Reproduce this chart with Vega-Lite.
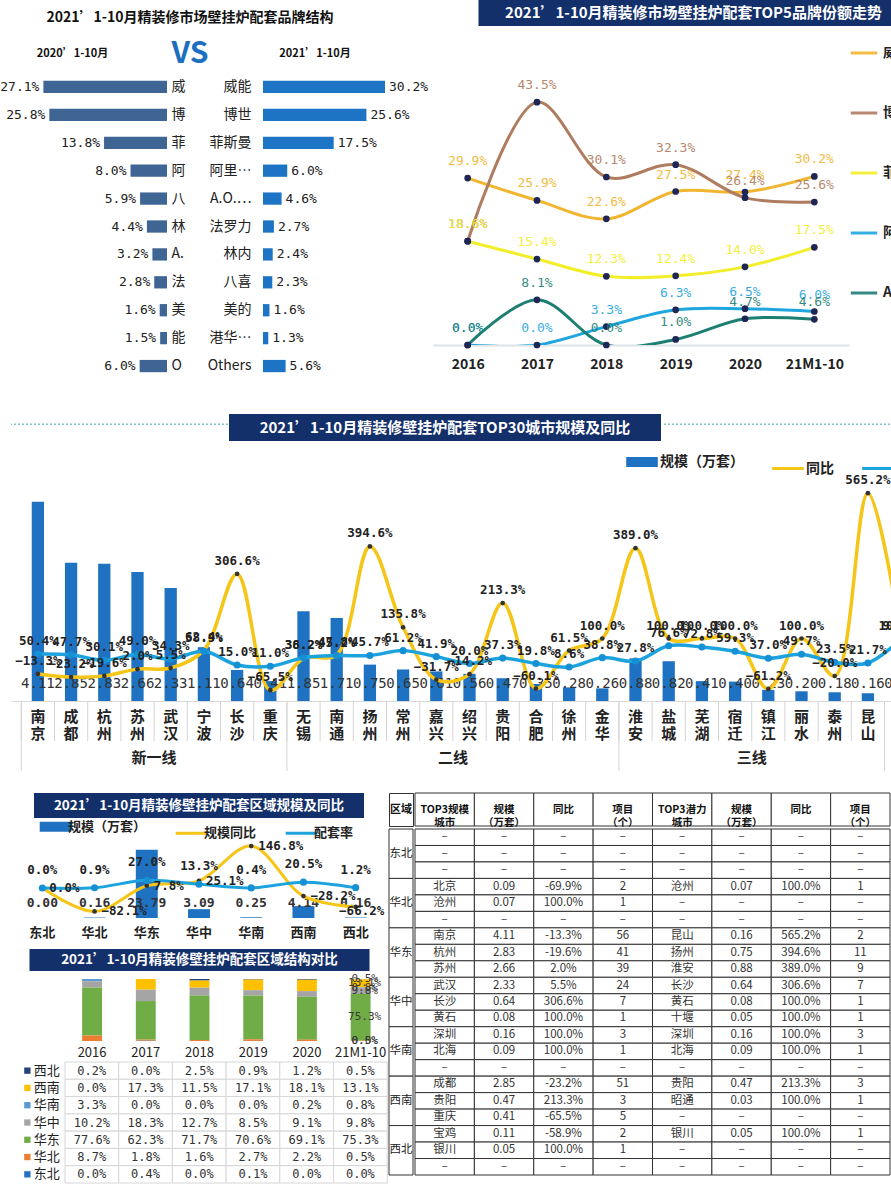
{
  "$schema": "https://vega.github.io/schema/vega-lite/v6.json",
  "padding": 0,
  "background": "white",
  "spacing": 34,
  "resolve": {"scale": {"color": "independent", "x": "independent", "y": "independent"}, "legend": {"color": "independent"}},
  "config": {
    "view": {"stroke": null},
    "font": "Noto Sans CJK SC",
    "axis": {"labelFont": "Noto Sans CJK SC", "titleFont": "Noto Sans CJK SC"},
    "legend": {"labelFont": "Noto Sans CJK SC", "titleFont": "Noto Sans CJK SC"},
    "title": {"font": "Noto Sans CJK SC"},
    "text": {"font": "Noto Sans CJK SC"}
  },
  "datasets": {
    "brand": [
      {"l": "威", "n": "威能", "a": 0.271, "b": 0.302},
      {"l": "博", "n": "博世", "a": 0.258, "b": 0.256},
      {"l": "菲", "n": "菲斯曼", "a": 0.138, "b": 0.175},
      {"l": "阿", "n": "阿里斯顿", "a": 0.080, "b": 0.060},
      {"l": "八", "n": "A.O.史密斯", "a": 0.059, "b": 0.046},
      {"l": "林", "n": "法罗力", "a": 0.044, "b": 0.027},
      {"l": "A.", "n": "林内", "a": 0.032, "b": 0.024},
      {"l": "法", "n": "八喜", "a": 0.028, "b": 0.023},
      {"l": "美", "n": "美的", "a": 0.016, "b": 0.016},
      {"l": "能", "n": "港华紫荆", "a": 0.015, "b": 0.013},
      {"l": "O", "n": "Others", "a": 0.060, "b": 0.056}
    ],
    "top5": [
      {"brand": "威能", "yr": "2016", "v": 0.299}, {"brand": "威能", "yr": "2017", "v": 0.259}, {"brand": "威能", "yr": "2018", "v": 0.226},
      {"brand": "威能", "yr": "2019", "v": 0.275}, {"brand": "威能", "yr": "2020", "v": 0.274}, {"brand": "威能", "yr": "21M1-10", "v": 0.302},
      {"brand": "博世", "yr": "2016", "v": 0.186}, {"brand": "博世", "yr": "2017", "v": 0.435}, {"brand": "博世", "yr": "2018", "v": 0.301},
      {"brand": "博世", "yr": "2019", "v": 0.323}, {"brand": "博世", "yr": "2020", "v": 0.264}, {"brand": "博世", "yr": "21M1-10", "v": 0.256},
      {"brand": "菲斯曼", "yr": "2016", "v": 0.186}, {"brand": "菲斯曼", "yr": "2017", "v": 0.154}, {"brand": "菲斯曼", "yr": "2018", "v": 0.123},
      {"brand": "菲斯曼", "yr": "2019", "v": 0.124}, {"brand": "菲斯曼", "yr": "2020", "v": 0.140}, {"brand": "菲斯曼", "yr": "21M1-10", "v": 0.175},
      {"brand": "阿里斯顿", "yr": "2016", "v": 0.0}, {"brand": "阿里斯顿", "yr": "2017", "v": 0.0}, {"brand": "阿里斯顿", "yr": "2018", "v": 0.033},
      {"brand": "阿里斯顿", "yr": "2019", "v": 0.063}, {"brand": "阿里斯顿", "yr": "2020", "v": 0.065}, {"brand": "阿里斯顿", "yr": "21M1-10", "v": 0.060},
      {"brand": "A.O.史密斯", "yr": "2016", "v": 0.0}, {"brand": "A.O.史密斯", "yr": "2017", "v": 0.081}, {"brand": "A.O.史密斯", "yr": "2018", "v": 0.0},
      {"brand": "A.O.史密斯", "yr": "2019", "v": 0.010}, {"brand": "A.O.史密斯", "yr": "2020", "v": 0.047}, {"brand": "A.O.史密斯", "yr": "21M1-10", "v": 0.046}
    ],
    "city": [
      {"city": "南京", "s": 4.11, "同比": -0.133, "配套率": 0.504},
      {"city": "成都", "s": 2.85, "同比": -0.232, "配套率": 0.477},
      {"city": "杭州", "s": 2.83, "同比": -0.196, "配套率": 0.301},
      {"city": "苏州", "s": 2.66, "同比": 0.020, "配套率": 0.490},
      {"city": "武汉", "s": 2.33, "同比": 0.055, "配套率": 0.343},
      {"city": "宁波", "s": 1.11, "同比": 0.624, "配套率": 0.589},
      {"city": "长沙", "s": 0.64, "同比": 3.066, "配套率": 0.150},
      {"city": "重庆", "s": 0.41, "同比": -0.655, "配套率": 0.110},
      {"city": "无锡", "s": 1.85, "同比": 0.362, "配套率": 0.382},
      {"city": "南通", "s": 1.71, "同比": 0.478, "配套率": 0.452},
      {"city": "扬州", "s": 0.75, "同比": 3.946, "配套率": 0.457},
      {"city": "常州", "s": 0.65, "同比": 1.358, "配套率": 0.612},
      {"city": "嘉兴", "s": 0.61, "同比": -0.317, "配套率": 0.419},
      {"city": "绍兴", "s": 0.56, "同比": -0.142, "配套率": 0.200},
      {"city": "贵阳", "s": 0.47, "同比": 2.133, "配套率": 0.373},
      {"city": "合肥", "s": 0.35, "同比": -0.601, "配套率": 0.198},
      {"city": "徐州", "s": 0.28, "同比": 0.615, "配套率": 0.086},
      {"city": "金华", "s": 0.26, "同比": 1.000, "配套率": 0.388},
      {"city": "淮安", "s": 0.88, "同比": 3.890, "配套率": 0.278},
      {"city": "盐城", "s": 0.82, "同比": 1.000, "配套率": 0.766},
      {"city": "芜湖", "s": 0.41, "同比": 1.000, "配套率": 0.728},
      {"city": "宿迁", "s": 0.40, "同比": 1.000, "配套率": 0.593},
      {"city": "镇江", "s": 0.23, "同比": -0.612, "配套率": 0.370},
      {"city": "丽水", "s": 0.20, "同比": 1.000, "配套率": 0.497},
      {"city": "泰州", "s": 0.18, "同比": -0.200, "配套率": 0.235},
      {"city": "昆山", "s": 0.16, "同比": 5.652, "配套率": 0.217},
      {"city": "淮南", "s": 0.33, "同比": 1.000, "配套率": 0.980}
    ],
    "region": [
      {"g": "东北", "s": 0.00, "规模同比": 0.000, "配套率": 0.000},
      {"g": "华北", "s": 0.16, "规模同比": -0.821, "配套率": 0.009},
      {"g": "华东", "s": 23.79, "规模同比": 0.078, "配套率": 0.270},
      {"g": "华中", "s": 3.09, "规模同比": 0.251, "配套率": 0.133},
      {"g": "华南", "s": 0.25, "规模同比": 1.468, "配套率": 0.004},
      {"g": "西南", "s": 4.14, "规模同比": -0.282, "配套率": 0.205},
      {"g": "西北", "s": 0.16, "规模同比": -0.662, "配套率": 0.012}
    ],
    "struct": [
      {"g": "西北", "yr": "2016", "v": 0.002}, {"g": "西北", "yr": "2017", "v": 0.000}, {"g": "西北", "yr": "2018", "v": 0.025}, {"g": "西北", "yr": "2019", "v": 0.009}, {"g": "西北", "yr": "2020", "v": 0.012}, {"g": "西北", "yr": "21M1-10", "v": 0.005},
      {"g": "西南", "yr": "2016", "v": 0.000}, {"g": "西南", "yr": "2017", "v": 0.173}, {"g": "西南", "yr": "2018", "v": 0.115}, {"g": "西南", "yr": "2019", "v": 0.171}, {"g": "西南", "yr": "2020", "v": 0.181}, {"g": "西南", "yr": "21M1-10", "v": 0.131},
      {"g": "华南", "yr": "2016", "v": 0.033}, {"g": "华南", "yr": "2017", "v": 0.000}, {"g": "华南", "yr": "2018", "v": 0.000}, {"g": "华南", "yr": "2019", "v": 0.000}, {"g": "华南", "yr": "2020", "v": 0.002}, {"g": "华南", "yr": "21M1-10", "v": 0.008},
      {"g": "华中", "yr": "2016", "v": 0.102}, {"g": "华中", "yr": "2017", "v": 0.183}, {"g": "华中", "yr": "2018", "v": 0.127}, {"g": "华中", "yr": "2019", "v": 0.085}, {"g": "华中", "yr": "2020", "v": 0.091}, {"g": "华中", "yr": "21M1-10", "v": 0.098},
      {"g": "华东", "yr": "2016", "v": 0.776}, {"g": "华东", "yr": "2017", "v": 0.623}, {"g": "华东", "yr": "2018", "v": 0.717}, {"g": "华东", "yr": "2019", "v": 0.706}, {"g": "华东", "yr": "2020", "v": 0.691}, {"g": "华东", "yr": "21M1-10", "v": 0.753},
      {"g": "华北", "yr": "2016", "v": 0.087}, {"g": "华北", "yr": "2017", "v": 0.018}, {"g": "华北", "yr": "2018", "v": 0.016}, {"g": "华北", "yr": "2019", "v": 0.027}, {"g": "华北", "yr": "2020", "v": 0.022}, {"g": "华北", "yr": "21M1-10", "v": 0.005},
      {"g": "东北", "yr": "2016", "v": 0.000}, {"g": "东北", "yr": "2017", "v": 0.004}, {"g": "东北", "yr": "2018", "v": 0.000}, {"g": "东北", "yr": "2019", "v": 0.001}, {"g": "东北", "yr": "2020", "v": 0.000}, {"g": "东北", "yr": "21M1-10", "v": 0.000}
    ],
    "regs": [
      {"g": "东北"}, {"g": "华北"}, {"g": "华东"}, {"g": "华中"}, {"g": "华南"}, {"g": "西南"}, {"g": "西北"}
    ],
    "hdr": [
      {"k": "c1", "t": "TOP3规模\n城市"}, {"k": "s1", "t": "规模\n（万套）"}, {"k": "y1", "t": "同比"}, {"k": "p1", "t": "项目\n（个）"},
      {"k": "c2", "t": "TOP3潜力\n城市"}, {"k": "s2", "t": "规模\n（万套）"}, {"k": "y2", "t": "同比"}, {"k": "p2", "t": "项目\n（个）"}
    ],
    "tbl": [
      {"r": 1, "c1": "–", "s1": "–", "y1": "–", "p1": "–", "c2": "–", "s2": "–", "y2": "–", "p2": "–"},
      {"r": 2, "c1": "–", "s1": "–", "y1": "–", "p1": "–", "c2": "–", "s2": "–", "y2": "–", "p2": "–"},
      {"r": 3, "c1": "–", "s1": "–", "y1": "–", "p1": "–", "c2": "–", "s2": "–", "y2": "–", "p2": "–"},
      {"r": 4, "c1": "北京", "s1": "0.09", "y1": "-69.9%", "p1": "2", "c2": "沧州", "s2": "0.07", "y2": "100.0%", "p2": "1"},
      {"r": 5, "c1": "沧州", "s1": "0.07", "y1": "100.0%", "p1": "1", "c2": "–", "s2": "–", "y2": "–", "p2": "–"},
      {"r": 6, "c1": "–", "s1": "–", "y1": "–", "p1": "–", "c2": "–", "s2": "–", "y2": "–", "p2": "–"},
      {"r": 7, "c1": "南京", "s1": "4.11", "y1": "-13.3%", "p1": "56", "c2": "昆山", "s2": "0.16", "y2": "565.2%", "p2": "2"},
      {"r": 8, "c1": "杭州", "s1": "2.83", "y1": "-19.6%", "p1": "41", "c2": "扬州", "s2": "0.75", "y2": "394.6%", "p2": "11"},
      {"r": 9, "c1": "苏州", "s1": "2.66", "y1": "2.0%", "p1": "39", "c2": "淮安", "s2": "0.88", "y2": "389.0%", "p2": "9"},
      {"r": 10, "c1": "武汉", "s1": "2.33", "y1": "5.5%", "p1": "24", "c2": "长沙", "s2": "0.64", "y2": "306.6%", "p2": "7"},
      {"r": 11, "c1": "长沙", "s1": "0.64", "y1": "306.6%", "p1": "7", "c2": "黄石", "s2": "0.08", "y2": "100.0%", "p2": "1"},
      {"r": 12, "c1": "黄石", "s1": "0.08", "y1": "100.0%", "p1": "1", "c2": "十堰", "s2": "0.05", "y2": "100.0%", "p2": "1"},
      {"r": 13, "c1": "深圳", "s1": "0.16", "y1": "100.0%", "p1": "3", "c2": "深圳", "s2": "0.16", "y2": "100.0%", "p2": "3"},
      {"r": 14, "c1": "北海", "s1": "0.09", "y1": "100.0%", "p1": "1", "c2": "北海", "s2": "0.09", "y2": "100.0%", "p2": "1"},
      {"r": 15, "c1": "–", "s1": "–", "y1": "–", "p1": "–", "c2": "–", "s2": "–", "y2": "–", "p2": "–"},
      {"r": 16, "c1": "成都", "s1": "2.85", "y1": "-23.2%", "p1": "51", "c2": "贵阳", "s2": "0.47", "y2": "213.3%", "p2": "3"},
      {"r": 17, "c1": "贵阳", "s1": "0.47", "y1": "213.3%", "p1": "3", "c2": "昭通", "s2": "0.03", "y2": "100.0%", "p2": "1"},
      {"r": 18, "c1": "重庆", "s1": "0.41", "y1": "-65.5%", "p1": "5", "c2": "–", "s2": "–", "y2": "–", "p2": "–"},
      {"r": 19, "c1": "宝鸡", "s1": "0.11", "y1": "-58.9%", "p1": "2", "c2": "银川", "s2": "0.05", "y2": "100.0%", "p2": "1"},
      {"r": 20, "c1": "银川", "s1": "0.05", "y1": "100.0%", "p1": "1", "c2": "–", "s2": "–", "y2": "–", "p2": "–"},
      {"r": 21, "c1": "–", "s1": "–", "y1": "–", "p1": "–", "c2": "–", "s2": "–", "y2": "–", "p2": "–"}
    ]
  },
  "vconcat": [
    {
      "resolve": {"scale": {"color": "independent", "x": "independent", "y": "independent"}, "legend": {"color": "independent"}},
      "hconcat": [
        {
          "resolve": {"scale": {"color": "independent", "x": "independent", "y": "independent"}, "legend": {"color": "independent"}},
          "vconcat": [
            {
              "width": 358, "height": 35,
              "data": {"values": [{"t": "2021’1-10月精装修市场壁挂炉配套品牌结构"}]},
              "mark": {"type": "text", "fontSize": 14, "fontWeight": "bold", "color": "#111"},
              "encoding": {"text": {"field": "t"}}
            },
            {
              "hconcat": [
                {
                  "width": 123, "height": 38,
                  "data": {"values": [{"t": "2020’1-10月"}]},
                  "mark": {"type": "text", "fontSize": 11, "fontWeight": "bold", "color": "#111"},
                  "encoding": {"text": {"field": "t"}}
                },
                {
                  "width": 112, "height": 38,
                  "data": {"values": [{"t": "VS"}]},
                  "mark": {"type": "text", "fontSize": 30, "fontWeight": "bold", "color": "#1D6FC0"},
                  "encoding": {"text": {"field": "t"}}
                },
                {
                  "width": 138, "height": 38,
                  "data": {"values": [{"t": "2021’1-10月"}]},
                  "mark": {"type": "text", "fontSize": 11, "fontWeight": "bold", "color": "#111"},
                  "encoding": {"text": {"field": "t"}}
                }
              ],
              "spacing": 0
            },
            {
              "resolve": {"scale": {"color": "independent", "x": "independent", "y": "independent"}, "legend": {"color": "independent"}},
              "hconcat": [
                {
                  "width": 156, "height": 307,
                  "data": {"name": "brand"},
                  "encoding": {
                    "y": {"field": "l", "type": "nominal", "sort": null, "scale": {"paddingInner": 0.56, "paddingOuter": 0.28},
                      "axis": {"orient": "right", "title": null, "domain": false, "ticks": false, "labelFontSize": 14, "labelPadding": 4, "labelColor": "#222"}},
                    "x": {"field": "a", "type": "quantitative", "scale": {"domain": [0, 0.342], "reverse": true, "nice": false}, "axis": null}
                  },
                  "layer": [
                    {"mark": {"type": "bar", "color": "#3E6594"}},
                    {"mark": {"type": "text", "align": "right", "dx": -4, "font": "DejaVu Sans Mono", "fontSize": 13, "color": "#222"}, "encoding": {"text": {"field": "a", "format": ".1%"}}}
                  ]
                },
                {
                  "width": 122, "height": 307,
                  "data": {"name": "brand"},
                  "encoding": {
                    "y": {"field": "n", "type": "nominal", "sort": null, "scale": {"paddingInner": 0.56, "paddingOuter": 0.28},
                      "axis": {"title": null, "domain": false, "ticks": false, "labelFontSize": 14, "labelPadding": 12, "labelLimit": 50, "labelColor": "#222"}},
                    "x": {"field": "b", "type": "quantitative", "scale": {"domain": [0, 0.302], "nice": false}, "axis": null}
                  },
                  "layer": [
                    {"mark": {"type": "bar", "color": "#1E74C4"}},
                    {"mark": {"type": "text", "align": "left", "dx": 4, "font": "DejaVu Sans Mono", "fontSize": 13, "color": "#222"}, "encoding": {"text": {"field": "b", "format": ".1%"}}}
                  ]
                }
              ],
              "spacing": 22
            }
          ],
          "spacing": 0
        },
        {
          "resolve": {"scale": {"color": "independent", "x": "independent", "y": "independent"}, "legend": {"color": "independent"}},
          "vconcat": [
            {
              "width": 430, "height": 26,
              "view": {"fill": "#14306B", "stroke": null},
              "data": {"values": [{"t": "2021’1-10月精装修市场壁挂炉配套TOP5品牌份额走势"}]},
              "mark": {"type": "text", "color": "white", "fontSize": 15, "fontWeight": "bold"},
              "encoding": {"text": {"field": "t"}}
            },
            {
              "width": 416, "height": 307,
              "data": {"name": "top5"},
              "encoding": {
                "x": {"field": "yr", "type": "ordinal", "sort": null, "scale": {"type": "point", "padding": 0.5},
                  "axis": {"title": null, "labelAngle": 0, "labelFontSize": 14, "labelFontWeight": "bold", "labelColor": "#222", "ticks": false, "domainColor": "#dde3e6", "domainWidth": 2, "labelPadding": 12, "grid": false}},
                "y": {"field": "v", "type": "quantitative", "scale": {"domain": [0, 0.55], "nice": false}, "axis": null},
                "color": {"field": "brand", "type": "nominal", "sort": null,
                  "scale": {"domain": ["威能", "博世", "菲斯曼", "阿里斯顿", "A.O.史密斯"], "range": ["#F2B52F", "#B07C60", "#F2EE2A", "#1FA6DF", "#1D7F74"]},
                  "legend": {"orient": "right", "title": null, "offset": 0, "symbolType": "stroke", "symbolStrokeWidth": 3, "symbolSize": 700, "labelFontSize": 14, "labelFontWeight": "bold", "labelColor": "#222", "rowPadding": 38, "padding": 0}}
              },
              "layer": [
                {"mark": {"type": "line", "interpolate": "catmull-rom", "strokeWidth": 3, "clip": true}},
                {"mark": {"type": "point", "filled": true, "size": 45, "opacity": 1}, "encoding": {"color": {"value": "#1E2656"}}},
                {"mark": {"type": "text", "dy": -17, "font": "DejaVu Sans Mono", "fontSize": 13, "opacity": 0.9}, "encoding": {"text": {"field": "v", "format": ".1%"}}}
              ]
            }
          ],
          "spacing": 12,
          "center": true
        }
      ],
      "spacing": 4
    },
    {
      "resolve": {"scale": {"color": "independent", "x": "independent", "y": "independent"}, "legend": {"color": "independent"}},
      "vconcat": [
        {
          "resolve": {"scale": {"color": "independent", "x": "independent", "y": "independent"}, "legend": {"color": "independent"}},
          "vconcat": [
            {
              "resolve": {"scale": {"color": "independent", "x": "independent", "y": "independent"}, "legend": {"color": "independent"}},
              "hconcat": [
                {
                  "width": 217, "height": 27,
                  "data": {"values": [{"d": 1}]},
                  "mark": {"type": "rule", "color": "#7cc5cc", "strokeDash": [2, 2], "strokeWidth": 1.5},
                  "encoding": {"y": {"datum": 0.62, "type": "quantitative", "scale": {"domain": [0, 1]}, "axis": null}}
                },
                {
                  "width": 432, "height": 27,
                  "view": {"fill": "#14306B", "stroke": null},
                  "data": {"values": [{"t": "2021’1-10月精装修壁挂炉配套TOP30城市规模及同比"}]},
                  "mark": {"type": "text", "color": "white", "fontSize": 15, "fontWeight": "bold"},
                  "encoding": {"text": {"field": "t"}}
                },
                {
                  "width": 240, "height": 27,
                  "data": {"values": [{"d": 1}]},
                  "mark": {"type": "rule", "color": "#7cc5cc", "strokeDash": [2, 2], "strokeWidth": 1.5},
                  "encoding": {"y": {"datum": 0.62, "type": "quantitative", "scale": {"domain": [0, 1]}, "axis": null}}
                }
              ],
              "spacing": 0
            },
            {
              "width": 917, "height": 220,
              "data": {"name": "city"},
              "encoding": {
                "x": {"field": "city", "type": "nominal", "sort": null,
                  "scale": {"domain": ["南京", "成都", "杭州", "苏州", "武汉", "宁波", "长沙", "重庆", "无锡", "南通", "扬州", "常州", "嘉兴", "绍兴", "贵阳", "合肥", "徐州", "金华", "淮安", "盐城", "芜湖", "宿迁", "镇江", "丽水", "泰州", "昆山", "淮南"], "paddingInner": 0, "paddingOuter": 0.31},
                  "axis": {"title": null, "labelAngle": 0, "labelExpr": "split(datum.label, '')", "labelFontSize": 15, "labelFontWeight": "bold", "labelColor": "#222", "labelLineHeight": 17, "labelPadding": 8, "labelBaseline": "top", "ticks": false, "domainColor": "#d9d9d9"}}
              },
              "layer": [
                {
                  "mark": {"type": "bar", "width": {"band": 0.37}},
                  "encoding": {
                    "y": {"field": "s", "type": "quantitative", "scale": {"domain": [0, 4.536], "nice": false}, "axis": null},
                    "color": {"datum": "规模（万套）", "scale": {"domain": ["规模（万套）", "同比", "配套率"], "range": ["#1F71C1", "#F5C518", "#1CA3DE"]},
                      "legend": {"orient": "none", "legendX": 624, "legendY": -26, "direction": "horizontal", "title": null, "symbolType": "stroke", "symbolSize": 1000, "symbolStrokeWidth": 3, "labelFontSize": 14, "labelFontWeight": "bold", "labelColor": "#222", "columnPadding": 22, "labelOffset": 11,
                        "encode": {"symbols": {"update": {"stroke": {"signal": "datum.value === '规模（万套）' ? '#1F71C1' : datum.value === '同比' ? '#F5C518' : '#1CA3DE'"}, "strokeWidth": {"signal": "datum.value === '规模（万套）' ? 10 : 3"}}}}}}
                  }
                },
                {
                  "mark": {"type": "text", "font": "DejaVu Sans Mono", "fontSize": 14, "color": "#333"},
                  "encoding": {
                    "y": {"datum": 0.35, "type": "quantitative", "scale": {"domain": [0, 4.536], "nice": false}, "axis": null},
                    "text": {"field": "s", "format": ".2f"}
                  }
                },
                {
                  "transform": [{"fold": ["同比", "配套率"], "as": ["key", "val"]}],
                  "mark": {"type": "line", "interpolate": "catmull-rom", "strokeWidth": 3.5},
                  "encoding": {
                    "y": {"field": "val", "type": "quantitative", "scale": {"domain": [-1.0, 6.04], "nice": false, "zero": false}, "axis": null},
                    "color": {"field": "key", "type": "nominal",
                      "legend": {"orient": "none", "legendX": 624, "legendY": -26, "direction": "horizontal", "title": null, "symbolType": "stroke", "symbolSize": 1000, "symbolStrokeWidth": 3, "labelFontSize": 14, "labelFontWeight": "bold", "labelColor": "#222", "columnPadding": 22, "labelOffset": 11,
                        "encode": {"symbols": {"update": {"stroke": {"signal": "datum.value === '规模（万套）' ? '#1F71C1' : datum.value === '同比' ? '#F5C518' : '#1CA3DE'"}, "strokeWidth": {"signal": "datum.value === '规模（万套）' ? 10 : 3"}}}}}}
                  }
                },
                {
                  "transform": [{"fold": ["同比", "配套率"], "as": ["key", "val"]}],
                  "mark": {"type": "point", "filled": true, "opacity": 1},
                  "encoding": {
                    "y": {"field": "val", "type": "quantitative", "scale": {"domain": [-1.0, 6.04], "nice": false, "zero": false}, "axis": null},
                    "color": {"condition": {"test": "datum.key === '同比'", "value": "#333333"}, "value": "#1590D5"},
                    "size": {"condition": {"test": "datum.key === '同比'", "value": 22}, "value": 50}
                  }
                },
                {
                  "transform": [{"fold": ["同比", "配套率"], "as": ["key", "val"]}],
                  "mark": {"type": "text", "dy": -13, "font": "DejaVu Sans Mono", "fontSize": 12.5, "fontWeight": "bold", "color": "#222"},
                  "encoding": {
                    "y": {"field": "val", "type": "quantitative", "scale": {"domain": [-1.0, 6.04], "nice": false, "zero": false}, "axis": null},
                    "text": {"field": "val", "format": ".1%"}
                  }
                },
                {
                  "mark": {"type": "rule", "color": "#d4d4d4", "strokeWidth": 1},
                  "encoding": {
                    "x": {"field": "city", "type": "nominal", "bandPosition": 0},
                    "y": {"datum": -1.0, "type": "quantitative", "scale": {"domain": [-1.0, 6.04], "nice": false, "zero": false}, "axis": null},
                    "y2": {"datum": -2.28}
                  }
                },
                {
                  "data": {"values": [{"at": "南京"}, {"at": "无锡"}, {"at": "淮安"}, {"at": "淮南"}]},
                  "mark": {"type": "rule", "color": "#d4d4d4", "strokeWidth": 1},
                  "encoding": {
                    "x": {"field": "at", "type": "nominal", "bandPosition": 0},
                    "y": {"datum": -1.0, "type": "quantitative", "scale": {"domain": [-1.0, 6.04], "nice": false, "zero": false}, "axis": null},
                    "y2": {"datum": -3.24}
                  }
                },
                {
                  "data": {"values": [{"tier": "新一线", "at": "武汉"}, {"tier": "二线", "at": "绍兴"}, {"tier": "三线", "at": "镇江"}]},
                  "mark": {"type": "text", "fontSize": 15, "fontWeight": "bold", "color": "#222"},
                  "encoding": {
                    "x": {"field": "at", "type": "nominal", "bandPosition": 0},
                    "y": {"datum": -2.82, "type": "quantitative", "scale": {"domain": [-1.0, 6.04], "nice": false, "zero": false}, "axis": null},
                    "text": {"field": "tier"}
                  }
                }
              ],
              "resolve": {"scale": {"y": "independent"}}
            }
          ],
          "spacing": 14
        },
        {
          "resolve": {"scale": {"color": "independent", "x": "independent", "y": "independent"}, "legend": {"color": "independent"}},
          "hconcat": [
            {
              "resolve": {"scale": {"color": "independent", "x": "independent", "y": "independent"}, "legend": {"color": "independent"}},
              "vconcat": [
                {
                  "resolve": {"scale": {"color": "independent", "x": "independent", "y": "independent"}, "legend": {"color": "independent"}},
                  "vconcat": [
                    {
                      "width": 330, "height": 25,
                      "view": {"fill": "#14306B", "stroke": null},
                      "data": {"values": [{"t": "2021’1-10月精装修壁挂炉配套区域规模及同比"}]},
                      "mark": {"type": "text", "color": "white", "fontSize": 13.5, "fontWeight": "bold"},
                      "encoding": {"text": {"field": "t"}}
                    },
                    {
                      "width": 376, "height": 78,
                      "data": {"name": "region"},
                      "encoding": {
                        "x": {"field": "g", "type": "nominal", "sort": null, "scale": {"paddingInner": 0, "paddingOuter": 0.1},
                          "axis": {"title": null, "labelAngle": 0, "labelFontSize": 13, "labelFontWeight": "bold", "labelColor": "#222", "ticks": false, "domain": false, "labelPadding": 8}}
                      },
                      "layer": [
                        {
                          "mark": {"type": "bar", "width": {"band": 0.42}},
                          "encoding": {
                            "y": {"field": "s", "type": "quantitative", "scale": {"domain": [0, 27.2], "nice": false}, "axis": null},
                            "color": {"datum": "规模（万套）", "scale": {"domain": ["规模（万套）", "规模同比", "配套率"], "range": ["#1F71C1", "#F5C518", "#1CA3DE"]},
                              "legend": {"orient": "none", "legendX": 38, "legendY": -20, "direction": "horizontal", "title": null, "symbolType": "stroke", "symbolSize": 1000, "symbolStrokeWidth": 3, "labelFontSize": 13, "labelFontWeight": "bold", "labelColor": "#222", "columnPadding": 22, "labelOffset": 6,
                                "encode": {"symbols": {"update": {"stroke": {"signal": "datum.value === '规模（万套）' ? '#1F71C1' : datum.value === '规模同比' ? '#F5C518' : '#1CA3DE'"}, "strokeWidth": {"signal": "datum.value === '规模（万套）' ? 10 : 3"}}}}}}
                          }
                        },
                        {
                          "mark": {"type": "text", "font": "DejaVu Sans Mono", "fontSize": 13, "fontWeight": "bold", "color": "#333"},
                          "encoding": {
                            "y": {"datum": 5.2, "type": "quantitative", "scale": {"domain": [0, 27.2], "nice": false}, "axis": null},
                            "text": {"field": "s", "format": ".2f"}
                          }
                        },
                        {
                          "transform": [{"fold": ["规模同比", "配套率"], "as": ["key", "val"]}],
                          "mark": {"type": "line", "interpolate": "catmull-rom", "strokeWidth": 3},
                          "encoding": {
                            "y": {"field": "val", "type": "quantitative", "scale": {"domain": [-1.05, 1.68], "nice": false, "zero": false}, "axis": null},
                            "color": {"field": "key", "type": "nominal",
                              "legend": {"orient": "none", "legendX": 38, "legendY": -20, "direction": "horizontal", "title": null, "symbolType": "stroke", "symbolSize": 1000, "symbolStrokeWidth": 3, "labelFontSize": 13, "labelFontWeight": "bold", "labelColor": "#222", "columnPadding": 22, "labelOffset": 6,
                                "encode": {"symbols": {"update": {"stroke": {"signal": "datum.value === '规模（万套）' ? '#1F71C1' : datum.value === '规模同比' ? '#F5C518' : '#1CA3DE'"}, "strokeWidth": {"signal": "datum.value === '规模（万套）' ? 10 : 3"}}}}}}
                          }
                        },
                        {
                          "transform": [{"fold": ["规模同比", "配套率"], "as": ["key", "val"]}],
                          "mark": {"type": "point", "filled": true, "opacity": 1},
                          "encoding": {
                            "y": {"field": "val", "type": "quantitative", "scale": {"domain": [-1.05, 1.68], "nice": false, "zero": false}, "axis": null},
                            "color": {"condition": {"test": "datum.key === '规模同比'", "value": "#333333"}, "value": "#1590D5"},
                            "size": {"condition": {"test": "datum.key === '规模同比'", "value": 22}, "value": 50}
                          }
                        },
                        {
                          "transform": [{"fold": ["规模同比", "配套率"], "as": ["key", "val"]}, {"filter": "datum.key === '配套率'"}],
                          "mark": {"type": "text", "dy": -18, "font": "DejaVu Sans Mono", "fontSize": 12.5, "fontWeight": "bold", "color": "#222"},
                          "encoding": {
                            "y": {"field": "val", "type": "quantitative", "scale": {"domain": [-1.05, 1.68], "nice": false, "zero": false}, "axis": null},
                            "text": {"field": "val", "format": ".1%"}
                          }
                        },
                        {
                          "transform": [{"fold": ["规模同比", "配套率"], "as": ["key", "val"]}, {"filter": "datum.key === '规模同比' && datum.g !== '西北'"}],
                          "mark": {"type": "text", "align": "left", "dx": 7, "font": "DejaVu Sans Mono", "fontSize": 12.5, "fontWeight": "bold", "color": "#222"},
                          "encoding": {
                            "y": {"field": "val", "type": "quantitative", "scale": {"domain": [-1.05, 1.68], "nice": false, "zero": false}, "axis": null},
                            "text": {"field": "val", "format": ".1%"}
                          }
                        },
                        {
                          "transform": [{"fold": ["规模同比", "配套率"], "as": ["key", "val"]}, {"filter": "datum.key === '规模同比' && datum.g === '西北'"}],
                          "mark": {"type": "text", "align": "center", "dx": 6, "dy": 4, "font": "DejaVu Sans Mono", "fontSize": 12.5, "fontWeight": "bold", "color": "#222"},
                          "encoding": {
                            "y": {"field": "val", "type": "quantitative", "scale": {"domain": [-1.05, 1.68], "nice": false, "zero": false}, "axis": null},
                            "text": {"field": "val", "format": ".1%"}
                          }
                        }
                      ],
                      "resolve": {"scale": {"y": "independent"}}
                    }
                  ],
                  "spacing": 2,
                  "center": true
                },
                {
                  "resolve": {"scale": {"color": "independent", "x": "independent", "y": "independent"}, "legend": {"color": "independent"}},
                  "vconcat": [
                    {
                      "width": 340, "height": 22,
                      "view": {"fill": "#14306B", "stroke": null},
                      "data": {"values": [{"t": "2021’1-10月精装修壁挂炉配套区域结构对比"}]},
                      "mark": {"type": "text", "color": "white", "fontSize": 13.5, "fontWeight": "bold"},
                      "encoding": {"text": {"field": "t"}}
                    },
                    {
                      "width": 376, "height": 62,
                      "data": {"name": "struct"},
                      "transform": [{"calculate": "indexof(['东北','华北','华东','华中','华南','西南','西北'], datum.g)", "as": "o"}],
                      "encoding": {
                        "x": {"field": "yr", "type": "nominal", "scale": {"domain": ["key", "2016", "2017", "2018", "2019", "2020", "21M1-10"], "paddingInner": 0, "paddingOuter": 0},
                          "axis": {"title": null, "labelAngle": 0, "labelExpr": "datum.label === 'key' ? '' : datum.label", "labelFontSize": 13, "labelColor": "#222", "ticks": false, "domain": false, "labelPadding": 5}}
                      },
                      "layer": [
                        {
                          "mark": {"type": "bar", "width": {"band": 0.37}},
                          "encoding": {
                            "y": {"field": "v", "type": "quantitative", "stack": "normalize", "scale": {"domain": [0, 1]}, "axis": null},
                            "color": {"field": "g", "type": "nominal", "scale": {"domain": ["东北", "华北", "华东", "华中", "华南", "西南", "西北"], "range": ["#2672C0", "#ED7D31", "#70AD47", "#A5A5A5", "#5B9BD5", "#FFC000", "#264478"]}, "legend": null},
                            "order": {"field": "o", "type": "quantitative"}
                          }
                        },
                        {
                          "transform": [{"filter": "datum.yr === '21M1-10'"}],
                          "mark": {"type": "text", "align": "center", "dx": 4, "font": "DejaVu Sans Mono", "fontSize": 11, "color": "#3b3b3b"},
                          "encoding": {
                            "y": {"field": "v", "type": "quantitative", "stack": "normalize", "bandPosition": 0.5},
                            "order": {"field": "o", "type": "quantitative"},
                            "text": {"field": "v", "format": ".1%"}
                          }
                        }
                      ]
                    },
                    {
                      "width": 376, "height": 121,
                      "layer": [
                        {
                          "data": {"name": "struct"},
                          "mark": {"type": "rect", "fill": "white", "stroke": "#d6d6d6", "strokeWidth": 1},
                          "encoding": {
                            "x": {"field": "yr", "type": "nominal", "scale": {"domain": ["key", "2016", "2017", "2018", "2019", "2020", "21M1-10"], "paddingInner": 0, "paddingOuter": 0}, "axis": null},
                            "y": {"field": "g", "type": "nominal", "scale": {"domain": ["西北", "西南", "华南", "华中", "华东", "华北", "东北"], "paddingInner": 0, "paddingOuter": 0}, "axis": null}
                          }
                        },
                        {
                          "data": {"name": "struct"},
                          "mark": {"type": "text", "font": "DejaVu Sans Mono", "fontSize": 12, "color": "#333"},
                          "encoding": {
                            "x": {"field": "yr", "type": "nominal"},
                            "y": {"field": "g", "type": "nominal"},
                            "text": {"field": "v", "format": ".1%"}
                          }
                        },
                        {
                          "data": {"name": "regs"},
                          "mark": {"type": "point", "shape": "square", "filled": true, "size": 40, "opacity": 1},
                          "encoding": {
                            "x": {"datum": "key", "type": "nominal", "bandPosition": 0.3},
                            "y": {"field": "g", "type": "nominal"},
                            "color": {"field": "g", "type": "nominal", "scale": {"domain": ["东北", "华北", "华东", "华中", "华南", "西南", "西北"], "range": ["#2672C0", "#ED7D31", "#70AD47", "#A5A5A5", "#5B9BD5", "#FFC000", "#264478"]}, "legend": null}
                          }
                        },
                        {
                          "data": {"name": "regs"},
                          "mark": {"type": "text", "align": "left", "fontSize": 13, "color": "#222"},
                          "encoding": {
                            "x": {"datum": "key", "type": "nominal", "bandPosition": 0.42},
                            "y": {"field": "g", "type": "nominal"},
                            "text": {"field": "g"}
                          }
                        }
                      ]
                    }
                  ],
                  "spacing": 2,
                  "center": true
                }
              ],
              "spacing": 10
            },
            {
              "resolve": {"scale": {"color": "independent", "x": "independent", "y": "independent"}, "legend": {"color": "independent"}},
              "vconcat": [
                {
                  "resolve": {"scale": {"color": "independent", "x": "independent", "y": "independent"}, "legend": {"color": "independent"}},
                  "hconcat": [
                    {
                      "width": 24, "height": 33,
                      "view": {"stroke": "#333", "strokeWidth": 1, "fill": "white"},
                      "data": {"values": [{"t": "区域"}]},
                      "mark": {"type": "text", "fontSize": 11, "fontWeight": "bold", "color": "#111"},
                      "encoding": {"text": {"field": "t"}}
                    },
                    {
                      "width": 475, "height": 33,
                      "data": {"name": "hdr"},
                      "encoding": {"x": {"field": "k", "type": "nominal", "sort": null, "scale": {"paddingInner": 0, "paddingOuter": 0}, "axis": null}},
                      "layer": [
                        {"mark": {"type": "rect", "fill": "white", "stroke": "#333", "strokeWidth": 1},
                         "encoding": {"y": {"datum": "h", "type": "nominal", "scale": {"paddingInner": 0, "paddingOuter": 0}, "axis": null}}},
                        {"mark": {"type": "text", "fontSize": 10.5, "fontWeight": "bold", "color": "#111", "lineBreak": "\n", "lineHeight": 13},
                         "encoding": {"text": {"field": "t"}}}
                      ]
                    }
                  ],
                  "spacing": 0
                },
                {
                  "resolve": {"scale": {"color": "independent", "x": "independent", "y": "independent"}, "legend": {"color": "independent"}},
                  "hconcat": [
                    {
                      "width": 24, "height": 346,
                      "data": {"name": "regs"},
                      "encoding": {"y": {"field": "g", "type": "nominal", "sort": null, "scale": {"paddingInner": 0, "paddingOuter": 0}, "axis": null}},
                      "layer": [
                        {"mark": {"type": "rect", "fill": "white", "stroke": "#333", "strokeWidth": 1},
                         "encoding": {"x": {"datum": "r", "type": "nominal", "scale": {"paddingInner": 0, "paddingOuter": 0}, "axis": null}}},
                        {"mark": {"type": "text", "fontSize": 11.5, "color": "#222"}, "encoding": {"text": {"field": "g"}}}
                      ]
                    },
                    {
                      "width": 475, "height": 346,
                      "data": {"name": "tbl"},
                      "transform": [{"fold": ["c1", "s1", "y1", "p1", "c2", "s2", "y2", "p2"], "as": ["k", "t"]}],
                      "encoding": {
                        "x": {"field": "k", "type": "nominal", "scale": {"domain": ["c1", "s1", "y1", "p1", "c2", "s2", "y2", "p2"], "paddingInner": 0, "paddingOuter": 0}, "axis": null},
                        "y": {"field": "r", "type": "ordinal", "scale": {"paddingInner": 0, "paddingOuter": 0}, "axis": null}
                      },
                      "layer": [
                        {"mark": {"type": "rect", "fill": "white", "stroke": "#333", "strokeWidth": 1}},
                        {"mark": {"type": "text", "fontSize": 11.5, "color": "#333"}, "encoding": {"text": {"field": "t"}}}
                      ]
                    }
                  ],
                  "spacing": 0
                }
              ],
              "spacing": 0
            }
          ],
          "spacing": 0
        }
      ],
      "spacing": 20
    }
  ]
}
